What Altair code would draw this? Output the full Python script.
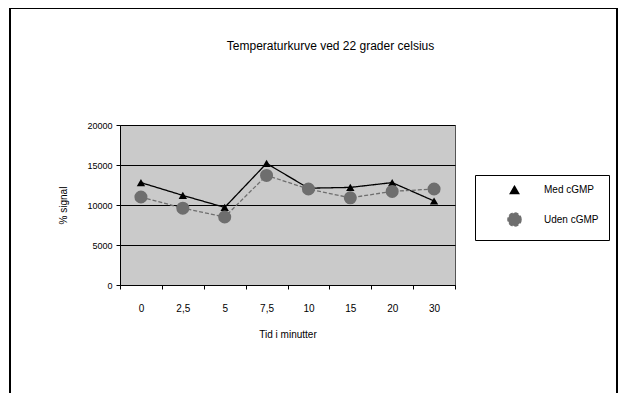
import altair as alt
import pandas as pd

minutes = ["0", "2,5", "5", "7,5", "10", "15", "20", "30"]
med_cgmp = [12800, 11200, 9700, 15200, 12100, 12200, 12800, 10500]
uden_cgmp = [11000, 9600, 8500, 13700, 12000, 10900, 11700, 12000]
series = ["Med cGMP", "Uden cGMP"]

rows = []
for i, m in enumerate(minutes):
    rows.append({"t": m, "v": med_cgmp[i], "s": series[0], "o": i})
    rows.append({"t": m, "v": uden_cgmp[i], "s": series[1], "o": i})
df = pd.DataFrame(rows)

FONT = "Liberation Sans"

x = alt.X("t:N", sort=minutes, title="Tid i minutter",
          scale=alt.Scale(paddingInner=0, paddingOuter=0),
          axis=alt.Axis(labelAngle=0, tickBand="extent", labelPadding=14,
                        titlePadding=16, domainColor="black", tickColor="black",
                        tickSize=4, labelFontSize=10, titleFontSize=10,
                        labelFont=FONT, titleFont=FONT, titleFontWeight="normal"))
y = alt.Y("v:Q", title="% signal",
          scale=alt.Scale(domain=[0, 20000], nice=False),
          axis=alt.Axis(values=[0, 5000, 10000, 15000, 20000], format="d", grid=True,
                        gridColor="black", gridWidth=1.2, domainColor="black",
                        tickColor="black", tickSize=4, labelFontSize=9,
                        titleFontSize=10, labelFont=FONT, titleFont=FONT,
                        titleFontWeight="normal", titlePadding=18, labelPadding=4))

color = alt.Color("s:N", scale=alt.Scale(domain=series, range=["#000000", "#6e6e6e"]),
                  legend=alt.Legend(title=None, orient="none", legendX=355, legendY=50,
                                    strokeColor="black", fillColor="white", padding=10,
                                    labelFont=FONT, labelFontSize=10, symbolSize=70,
                                    rowPadding=12, symbolOffset=22, labelOffset=22,
                                    symbolStrokeWidth=1.5))
shape = alt.Shape("s:N", scale=alt.Scale(domain=series, range=["triangle-up", "circle"]))

lines = alt.Chart(df).mark_line(strokeWidth=1.3).encode(
    x=x, y=y, color=color,
    strokeDash=alt.StrokeDash("s:N", scale=alt.Scale(domain=series, range=[[1, 0], [4, 2]]), legend=None),
    order="o:Q")

points = alt.Chart(df).mark_point(filled=True, opacity=1).encode(
    x=x, y=y, color=color, shape=shape,
    size=alt.Size("s:N", scale=alt.Scale(domain=series, range=[70, 170]), legend=None))

frame = alt.Chart(df).mark_rect(filled=False, stroke="black", strokeWidth=1).encode(
    x=alt.value(-110), x2=alt.value(497), y=alt.value(-117), y2=alt.value(300))

chart = alt.layer(frame, lines, points).properties(
    width=335, height=160,
    background="white",
    title=alt.TitleParams("Temperaturkurve  ved 22 grader celsius", font=FONT,
                          fontSize=12, fontWeight="normal", offset=-45, dx=43),
    autosize=alt.AutoSizeParams(type="none"),
    padding={"left": 112, "top": 117, "right": 163, "bottom": 108},
).configure_view(fill="#cacaca", stroke="#555555")

chart.save("out.html", embed_options={"renderer": "svg", "actions": False})
